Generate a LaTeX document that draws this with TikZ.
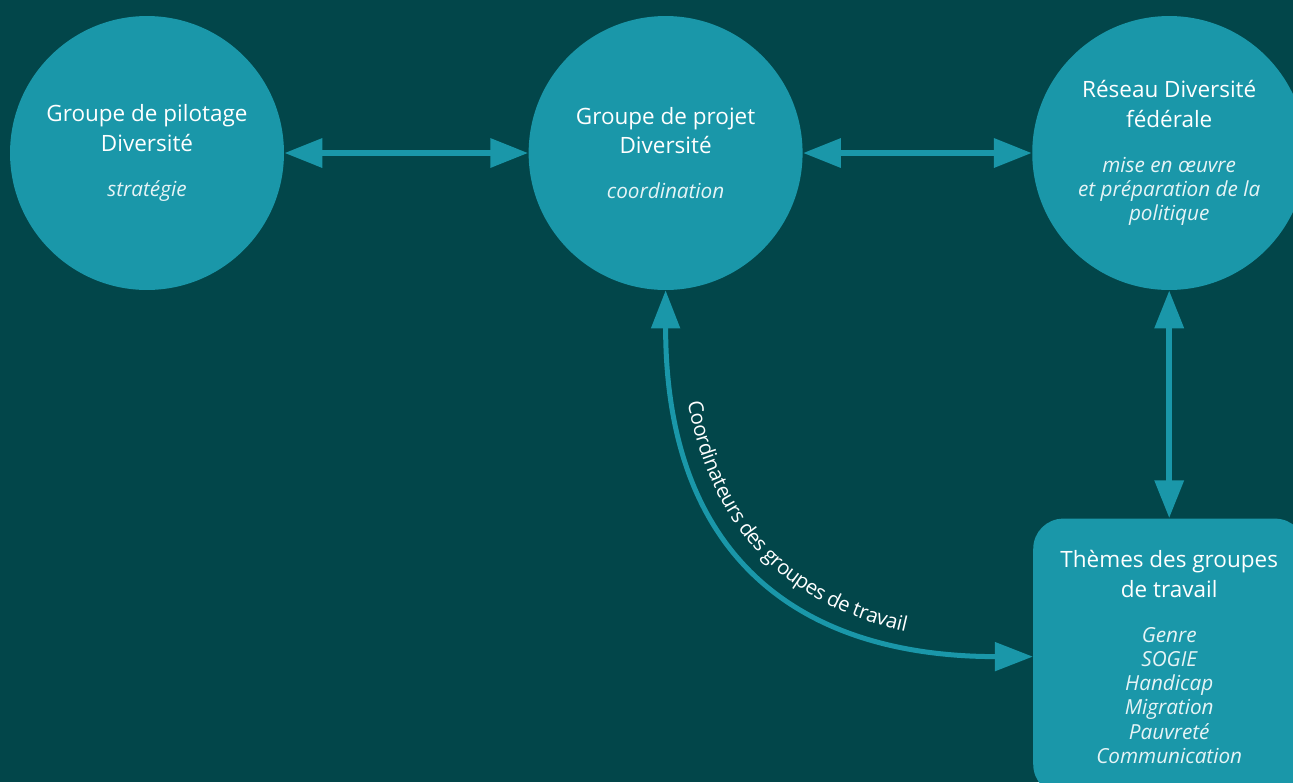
\documentclass[tikz,border=0pt]{standalone}
\usepackage{fontspec}
\setmainfont{Open Sans}
\usepackage{tikz}
\usetikzlibrary{positioning,arrows.meta,decorations.text}
\definecolor{bgteal}{HTML}{02464A}
\definecolor{nodeteal}{HTML}{1A97A9}
\definecolor{softwhite}{HTML}{E6F4F6}
\newcommand{\details}[1]{{\fontsize{11.8}{13}\selectfont\itshape\color{softwhite}#1}}

\begin{document}
\begin{tikzpicture}[x=0.02cm, y=-0.02cm,
    circ/.style={circle, fill=nodeteal, minimum size=5.48cm, inner sep=0pt, align=center, text=white, font=\fontsize{12.8}{17}\selectfont},
    themebox/.style={rectangle, rounded corners=0.6cm, fill=nodeteal, minimum width=5.44cm, minimum height=5.52cm, inner sep=0pt, align=center, text=white, font=\fontsize{12.8}{17}\selectfont},
    link/.style={draw=nodeteal, line width=0.13cm, {Triangle[length=0.76cm,width=0.56cm]}-{Triangle[length=0.76cm,width=0.56cm]}}]
        \useasboundingbox (0,0) rectangle (1293,782);
        \clip (0,0) rectangle (1293,782);
        \fill[bgteal] (0,0) rectangle (1293,782);
        % circles
        \node (gp) [circ] at (147,153) {Groupe de pilotage\\Diversité\\[8.6pt]\details{stratégie}};
        \node (pp) [circ, right=4.88cm of gp] {Groupe de projet\\Diversité\\[8.6pt]\details{coordination}};
        \node (rd) [circ, right=4.58cm of pp] {Réseau Diversité\\fédérale\\[8.6pt]\details{mise en œuvre}\\[-3.3pt]\details{et préparation de la}\\[-3.3pt]\details{politique}};
        \node (themes) [themebox, below=4.56cm of rd] {Thèmes des groupes\\de travail\\[9pt]\details{Genre}\\[-3.3pt]\details{SOGIE}\\[-3.3pt]\details{Handicap}\\[-3.3pt]\details{Migration}\\[-3.3pt]\details{Pauvreté}\\[-3.3pt]\details{Communication}};
        % connectors
        \draw[link] (gp) -- (pp);
        \draw[link] (pp) -- (rd);
        \draw[link] (rd) -- (themes);
        \draw[link, line width=0.1cm] (pp.south) .. controls +(0,270) and +(-230,0) .. (themes.west);
        \path[decorate, decoration={text along path, raise=7pt, text color=white, text align={left indent=2.3cm},
            text={|\fontsize{11.6}{13}\selectfont|Coordinateurs des groupes de travail}}]
            (pp.south) .. controls +(0,270) and +(-230,0) .. (themes.west);
    \end{tikzpicture}
\end{document}
